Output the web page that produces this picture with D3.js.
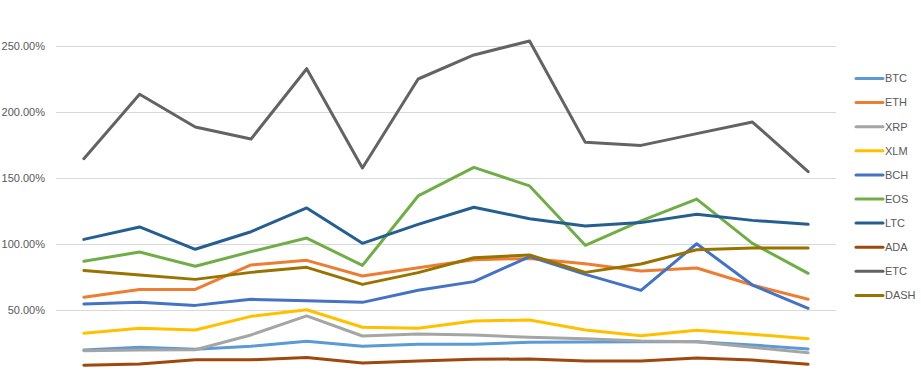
<!DOCTYPE html>
<html><head><meta charset="utf-8">
<script src="https://cdn.jsdelivr.net/npm/d3@7"></script>
<style>body{margin:0;background:#fff}svg{display:block}</style>
</head><body>
<svg id="c" width="921" height="370"></svg>
<script>
const periods = d3.range(1, 15).map(String);
const seriesNames = ["BTC","ETH","XRP","XLM","BCH","EOS","LTC","ADA","ETC","DASH"];
const BTC  = [19.7,21.7,20.2,22.5,26.3,22.5,24.0,24.0,25.5,25.8,26.0,26.0,23.5,20.5];
const ETH  = [59.6,65.6,65.6,84.1,87.6,75.8,82.0,88.1,89.1,85.1,79.5,81.8,68.9,58.1];
const XRP  = [19.2,19.7,19.9,31.1,45.5,30.3,31.8,31.1,29.3,28.3,26.5,26.0,21.7,17.7];
const XLM  = [32.3,36.1,34.8,45.2,50.2,36.9,36.1,41.7,42.4,34.8,30.5,34.6,31.6,28.3];
const BCH  = [54.5,55.8,53.5,58.1,57.1,55.8,64.9,71.5,90.4,77.0,64.9,100.2,68.9,51.3];
const EOS  = [86.9,93.9,83.1,94.2,104.5,83.8,136.4,158.0,144.0,99.0,117.5,134.0,100.5,77.8];
const LTC  = [103.5,112.9,96.0,109.3,127.3,100.5,114.9,127.8,119.2,113.6,116.2,122.5,117.9,114.9];
const ADA  = [8.1,9.1,12.3,12.3,14.1,9.8,11.4,12.6,12.9,11.4,11.4,13.6,12.1,8.9];
const ETC  = [164.6,213.4,188.6,179.5,232.8,157.6,225.0,243.2,253.8,177.0,174.7,183.6,192.4,154.8];
const DASH = [80.0,76.5,73.2,78.5,82.3,69.4,78.3,89.6,91.7,78.5,84.8,95.7,97.0,97.0];
const seriesValues = [BTC,ETH,XRP,XLM,BCH,EOS,LTC,ADA,ETC,DASH];
const yTicks = [50,100,150,200,250];
const colors = ["#5B9BD5","#ED7D31","#A5A5A5","#FFC000","#4472C4","#70AD47","#255E91","#9E480E","#636363","#997300"];

const svg = d3.select("#c");
const x = d3.scalePoint().domain(periods).range([56, 836]).padding(0.5);
const y = d3.scaleLinear().domain([0, 300]).range([376, -20]);

// gridlines
svg.append("g").selectAll("line").data(yTicks).join("line")
  .attr("x1", 56).attr("x2", 836)
  .attr("y1", d => Math.round(y(d)) + 0.5).attr("y2", d => Math.round(y(d)) + 0.5)
  .attr("stroke", "#d9d9d9").attr("stroke-width", 1);

// y axis labels
const yAxis = d3.axisLeft(y).tickValues(yTicks).tickSize(0).tickPadding(0)
  .tickFormat(d => d.toFixed(2) + "%");
const ga = svg.append("g").attr("transform", "translate(45,0)").call(yAxis);
ga.select(".domain").remove();
ga.selectAll("text").attr("fill", "#595959")
  .style("font-family", "'Liberation Sans', Arial, sans-serif").style("font-size", "11px");

// lines
const line = d3.line().x((d, i) => x(periods[i])).y(d => y(d));
svg.append("g").selectAll("path").data(seriesValues).join("path")
  .attr("d", d => line(d))
  .attr("fill", "none")
  .attr("stroke", (d, i) => colors[i])
  .attr("stroke-width", 3)
  .attr("stroke-linejoin", "round")
  .attr("stroke-linecap", "round");

// legend
const lg = svg.append("g").selectAll("g").data(seriesNames).join("g")
  .attr("transform", (d, i) => `translate(856,${78.5 + i * 24.1})`);
lg.append("line").attr("x1", 0).attr("x2", 27).attr("y1", 0).attr("y2", 0)
  .attr("stroke", (d, i) => colors[i]).attr("stroke-width", 3).attr("stroke-linecap", "round");
lg.append("text").attr("x", 29).attr("y", 0).attr("dy", "0.35em")
  .text(d => d).attr("fill", "#595959")
  .style("font-family", "'Liberation Sans', Arial, sans-serif").style("font-size", "11px");
</script>
</body></html>
